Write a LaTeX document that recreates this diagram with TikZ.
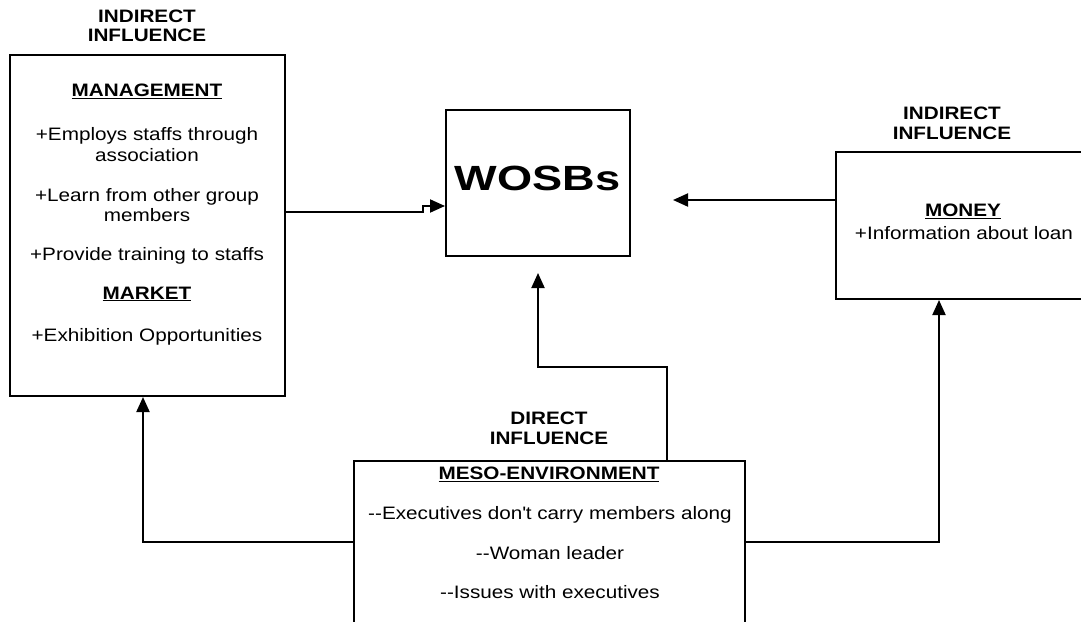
\documentclass[tikz,border=0pt]{standalone}
\usepackage{fontspec}
\setmainfont[FakeStretch=1.15]{Liberation Sans}
\newfontfamily\titlefont[FakeStretch=1.29]{Liberation Sans}
\usetikzlibrary{arrows.meta}
\begin{document}
\begin{tikzpicture}[x=1pt,y=-1pt,
  box/.style={draw, line width=2pt, inner sep=0pt},
  lbl/.style={inner sep=0pt, text height=13pt, text depth=0pt, font=\fontsize{18}{21}\selectfont},
  hd/.style={lbl, font=\fontsize{18}{21}\selectfont\bfseries},
  link/.style={line width=2pt, -{Triangle[length=15pt,width=13pt]}}]
  \clip (0,0) rectangle (1081,621);
  \fill[white] (0,0) rectangle (1081,621);

  % management / market box
  \node[hd] (li1) at (147,16) {INDIRECT};
  \node[hd] (li2) at (147,35) {INFLUENCE};
  \node[box, minimum width=275pt, minimum height=341pt] (mgmt) at (147.5,225.5) {};
  \node[hd]  (mgh) at (147,90)    {\underline{MANAGEMENT}};
  \node[lbl] (m1)  at (147,133.5) {+Employs staffs through};
  \node[lbl] (m1b) at (147,155)   {association};
  \node[lbl] (m2)  at (147,195)   {+Learn from other group};
  \node[lbl] (m2b) at (147,215)   {members};
  \node[lbl] (m3)  at (147,253.5) {+Provide training to staffs};
  \node[hd]  (mkh) at (147,292.5) {\underline{MARKET}};
  \node[lbl] (mk1) at (147,335)   {+Exhibition Opportunities};

  % central box
  \node[box, minimum width=184pt, minimum height=146pt] (wosb) at (538,183) {};
  \node[inner sep=0pt, text height=25pt, text depth=0pt,
        font=\titlefont\fontsize{35}{40}\selectfont\bfseries] (wt) at (537.5,177.5) {WOSBs};

  % money box
  \node[hd] (ri1) at (952,113) {INDIRECT};
  \node[hd] (ri2) at (952,133) {INFLUENCE};
  \node[box, minimum width=254pt, minimum height=147pt] (money) at (963,225.5) {};
  \node[hd]  (mnh) at (963,210) {\underline{MONEY}};
  \node[lbl] (mn1) at (964,233) {+Information about loan};

  % meso-environment box
  \node[hd] (di1) at (549,418) {DIRECT};
  \node[hd] (di2) at (549,437.5) {INFLUENCE};
  \node[box, minimum width=391pt, minimum height=200pt] (meso) at (549.5,561) {};
  \node[hd]  (msh) at (549,473)   {\underline{MESO-ENVIRONMENT}};
  \node[lbl] (ms1) at (550,513)   {-{}-Executives don\textquotesingle t carry members along};
  \node[lbl] (ms2) at (550,552.5) {-{}-Woman leader};
  \node[lbl] (ms3) at (550,592)   {-{}-Issues with executives};

  % routing points
  \coordinate (j1) at (423,212);
  \coordinate (j2) at (423,206);
  \coordinate (e2) at (673,200);
  \coordinate (c1) at (667,367);
  \coordinate (c2) at (538,367);
  \coordinate (c3) at (538,273);
  \coordinate (l1) at (143,542);
  \coordinate (r1) at (939,542);

  % connectors
  \draw[link] (mgmt.east |- j1) -- (j1) -- (j2) -- (wosb.west |- j2);
  \draw[link] (money.west |- e2) -- (e2);
  \draw[link] (meso.north -| c1) -- (c1) -- (c2) -- (c3);
  \draw[link] (meso.west |- l1) -- (l1) -- (mgmt.south -| l1);
  \draw[link] (meso.east |- r1) -- (r1) -- (money.south -| r1);
\end{tikzpicture}
\end{document}
